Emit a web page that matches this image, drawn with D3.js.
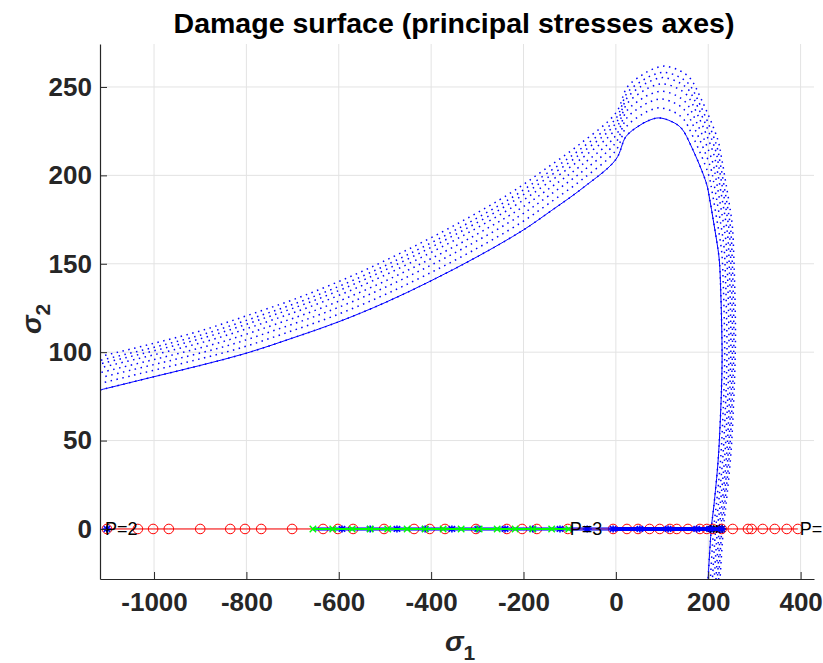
<!DOCTYPE html>
<html>
<head>
<meta charset="utf-8">
<script src="https://cdn.jsdelivr.net/npm/d3@7"></script>
<style>
  body { margin: 0; background: #fff; }
  text { font-family: "Liberation Sans", Arial, Helvetica, sans-serif; }
</style>
</head>
<body>
<div id="chart"></div>
<script>
// damage surface, first level (solid curve)
var surfS1 = [-1117, -1002, -900, -799, -700, -602, -500, -403, -300, -201, -140, -71, 0,
  22, 50, 71, 93, 121, 142, 164, 196, 203.5, 210.7, 218, 224, 227, 229, 230,
  229, 227, 221.5, 212, 207, 199.5];
var surfS2 = [78.6, 86, 92.5, 99.5, 108, 117, 128, 140, 154, 169, 180, 193, 209,
  222, 228, 231, 232.5, 230.4, 226.6, 216, 195.5, 186, 175, 163.5, 152, 135, 116.5, 97,
  82, 67, 39, 12.6, 1.3, -29];
// growth of the nested (dotted) surfaces, read at the peak
var levelScale = [1, 1.0245, 1.046, 1.065, 1.083, 1.098, 1.111, 1.126];

// load paths on the sigma1 axis (sigma2 = 0)
var redS1 = [-1102, -1035, -1002, -968, -900, -835, -803, -768, -701, -634, -602, -569, -502,
  -437, -403, -370, -303, -236, -203, -171, -104, -6, 24, 48, 73, 95, 117, 132, 156, 182,
  197, 210, 229, 253, 286, 294, 318, 344, 370, 394];
var blueS1 = [-1102, -593, -532, -474, -413, -355, -299, -240, -180, -121, -62, -6, 52, 113,
  175, 203, 229];
var blueLineS1 = [-656, -6, 232];
var greenS1 = [-656, -613, -571, -532, -494, -452, -413, -374, -335, -296, -257, -218, -180,
  -139, -102];
var blackS1 = [205, 212, 218, 224, 230];

var labelText = ["P=1", "P=2", "P=3"];
var labelS1 = [398, -1106, -100];

var xTicks = [-1000, -800, -600, -400, -200, 0, 200, 400];
var yTicks = [0, 50, 100, 150, 200, 250];

var width = 823, height = 663;
var plotL = 100, plotR = 814, plotT = 44, plotB = 579;

var svg = d3.select('#chart')
  .append('svg')
  .attr('width', width)
  .attr('height', height)
  .style('display', 'block')
  .style('background', '#fff');

var x = d3.scaleLinear().domain([-1117, 429]).range([plotL, plotR]);
var y = d3.scaleLinear().domain([-28.3, 274.3]).range([plotB, plotT]);

svg.append('clipPath').attr('id', 'plotClip')
  .append('rect')
  .attr('x', plotL).attr('y', plotT)
  .attr('width', plotR - plotL).attr('height', plotB - plotT);

// grid
var grid = svg.append('g').attr('class', 'grid');
grid.selectAll('.vgrid')
  .data(xTicks)
  .enter().append('line')
  .attr('x1', function (d) { return x(d); })
  .attr('x2', function (d) { return x(d); })
  .attr('y1', plotT).attr('y2', plotB)
  .style('stroke', '#e3e3e3').style('stroke-width', 1);
grid.selectAll('.hgrid')
  .data(yTicks)
  .enter().append('line')
  .attr('y1', function (d) { return y(d); })
  .attr('y2', function (d) { return y(d); })
  .attr('x1', plotL).attr('x2', plotR)
  .style('stroke', '#e3e3e3').style('stroke-width', 1);

var plot = svg.append('g').attr('clip-path', 'url(#plotClip)');

// surfaces
var surf = surfS1.map(function (d, i) { return [d, surfS2[i]]; });
function surfLine(k) {
  return d3.line()
    .curve(d3.curveCatmullRom.alpha(0.5))
    .x(function (d) { return x(d[0] * k); })
    .y(function (d) { return y(d[1] * k); });
}

plot.selectAll('.level')
  .data(levelScale)
  .enter().append('path')
  .attr('class', 'level')
  .attr('d', function (k) { return surfLine(k)(surf); })
  .style('fill', 'none')
  .style('stroke', '#0000ff')
  .style('stroke-width', 1.5)
  .style('stroke-dasharray', '1.5,4.5');

plot.append('path')
  .attr('d', surfLine(1)(surf))
  .style('fill', 'none')
  .style('stroke', '#0000ff')
  .style('stroke-width', 1);

// load paths
var axisLine = d3.line()
  .x(function (d) { return x(d); })
  .y(function () { return y(0); });

// red path (circles)
plot.append('path')
  .attr('d', axisLine(redS1))
  .style('fill', 'none').style('stroke', '#ff0000').style('stroke-width', 1);
plot.selectAll('.redMark')
  .data(redS1)
  .enter().append('circle')
  .attr('cx', function (d) { return x(d); })
  .attr('cy', y(0))
  .attr('r', 4.8)
  .style('fill', 'none').style('stroke', '#ff0000').style('stroke-width', 1);

// black path
plot.append('path')
  .attr('d', axisLine(blackS1))
  .style('fill', 'none').style('stroke', '#000').style('stroke-width', 3);
plot.selectAll('.blackMark')
  .data(blackS1)
  .enter().append('path')
  .attr('transform', function (d) { return 'translate(' + x(d) + ',' + y(0) + ')'; })
  .attr('d', 'M-4,0H4M0,-4V4M-2.8,-2.8L2.8,2.8M-2.8,2.8L2.8,-2.8')
  .style('stroke', '#000').style('stroke-width', 1.2);

// blue path (asterisks)
plot.append('path')
  .attr('d', axisLine(blueLineS1.slice(0, 2)))
  .style('fill', 'none').style('stroke', '#0000ff').style('stroke-width', 4).style('stroke-opacity', 0.55);
plot.append('path')
  .attr('d', axisLine(blueLineS1.slice(1)))
  .style('fill', 'none').style('stroke', '#0000ff').style('stroke-width', 4);
plot.selectAll('.blueMark')
  .data(blueS1)
  .enter().append('path')
  .attr('transform', function (d) { return 'translate(' + x(d) + ',' + y(0) + ')'; })
  .attr('d', 'M-4.5,0H4.5M0,-3.5V3.5M-3.2,-2.8L3.2,2.8M-3.2,2.8L3.2,-2.8')
  .style('stroke', '#0000ff').style('stroke-width', 1.6);

// green path (crosses)
plot.append('path')
  .attr('d', axisLine(greenS1))
  .style('fill', 'none').style('stroke', '#00ff00').style('stroke-width', 2);
plot.selectAll('.greenMark')
  .data(greenS1)
  .enter().append('path')
  .attr('transform', function (d) { return 'translate(' + x(d) + ',' + y(0) + ')'; })
  .attr('d', 'M-3.2,-3.2L3.2,3.2M-3.2,3.2L3.2,-3.2')
  .style('stroke', '#00ff00').style('stroke-width', 1.4);

// path labels (not clipped to axes)
svg.selectAll('.pLabel')
  .data(labelText)
  .enter().append('text')
  .attr('x', function (d, i) { return x(labelS1[i]); })
  .attr('y', y(0))
  .attr('dy', '0.36em')
  .style('font-size', '18px')
  .style('fill', '#000')
  .text(function (d) { return d; });

// axes
var fmt = function (d) { return String(d); };
var xAxis = d3.axisBottom(x).tickValues(xTicks).tickFormat(fmt)
  .tickSizeInner(-7).tickSizeOuter(0).tickPadding(14);
var yAxis = d3.axisLeft(y).tickValues(yTicks).tickFormat(fmt)
  .tickSizeInner(-7).tickSizeOuter(0).tickPadding(8);

var gx = svg.append('g').attr('transform', 'translate(0,' + plotB + ')').call(xAxis);
var gy = svg.append('g').attr('transform', 'translate(' + plotL + ',0)').call(yAxis);
[gx, gy].forEach(function (g) {
  g.select('.domain').style('stroke', '#262626').style('stroke-width', 1.2);
  g.selectAll('.tick line').style('stroke', '#262626');
  g.selectAll('.tick text')
    .style('font-family', '"Liberation Sans", Arial, sans-serif')
    .style('font-size', '26px')
    .style('font-weight', 'bold')
    .style('fill', '#262626');
});

// title
svg.append('text')
  .attr('x', 454)
  .attr('y', 33)
  .attr('text-anchor', 'middle')
  .style('font-size', '28.5px')
  .style('font-weight', 'bold')
  .style('fill', '#000')
  .text('Damage surface (principal stresses axes)');

// axis labels
var xl = svg.append('text')
  .attr('x', 445)
  .attr('y', 651)
  .style('font-size', '28px')
  .style('font-weight', 'bold')
  .style('fill', '#262626');
xl.append('tspan').style('font-style', 'italic').text('σ');
xl.append('tspan').attr('dy', 9).style('font-size', '21px').text('1');

var yl = svg.append('text')
  .attr('transform', 'translate(41,334) rotate(-90)')
  .style('font-size', '28px')
  .style('font-weight', 'bold')
  .style('fill', '#262626');
yl.append('tspan').style('font-style', 'italic').text('σ');
yl.append('tspan').attr('dy', 9).style('font-size', '21px').text('2');
</script>
</body>
</html>
